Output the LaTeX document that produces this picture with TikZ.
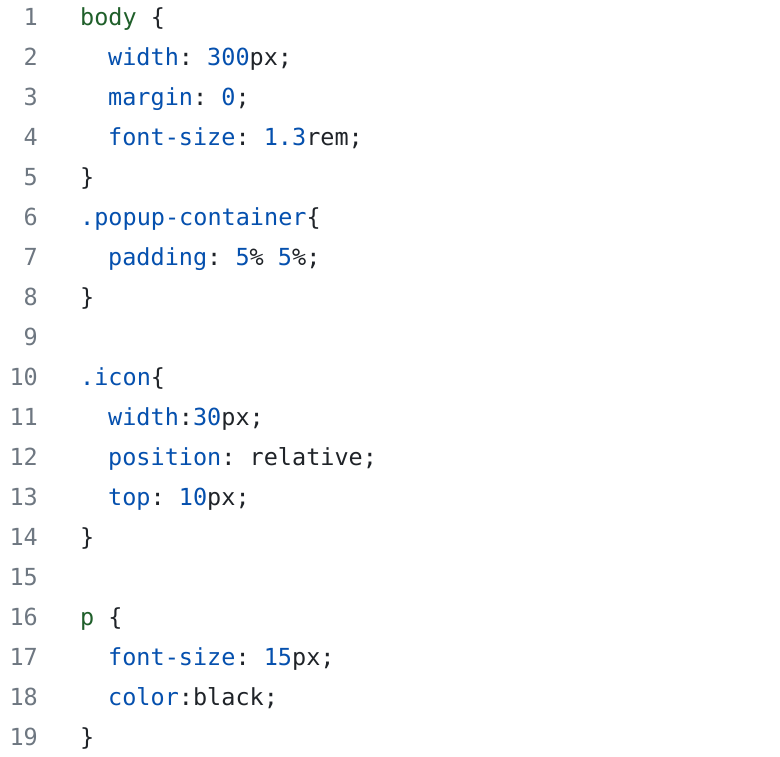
\documentclass[tikz,border=0pt]{standalone}
\usepackage{fontspec}
\setmonofont{DejaVu Sans Mono}
\definecolor{lnum}{HTML}{6E7781}
\definecolor{prop}{HTML}{0550AE}
\definecolor{sel}{HTML}{1F5F2A}
\definecolor{txt}{HTML}{1F2328}
\begin{document}
\begin{tikzpicture}[x=1pt,y=1pt,
  code/.style={anchor=base west,inner sep=0pt,font=\fontsize{23.5}{28}\ttfamily,text=txt},
  num/.style={anchor=base east,inner sep=0pt,font=\fontsize{23.5}{28}\ttfamily,text=lnum}]
\useasboundingbox[fill=white] (0,0) rectangle (780,-756);
\def\P#1{\textcolor{prop}{#1}}
\def\S#1{\textcolor{sel}{#1}}
\foreach \i in {1,...,19} {
  \node[num] (n\i) at (38,{-25-40*(\i-1)}) {\i};
}
\node[code] (l1) at (80,-25) {\S{body} \{};
\node[code] (l2) at (108,-65) {\P{width}: \P{300}px;};
\node[code] (l3) at (108,-105) {\P{margin}: \P{0};};
\node[code] (l4) at (108,-145) {\P{font-size}: \P{1.3}rem;};
\node[code] (l5) at (80,-185) {\}};
\node[code] (l6) at (80,-225) {\P{.popup-container}\{};
\node[code] (l7) at (108,-265) {\P{padding}: \P{5}\% \P{5}\%;};
\node[code] (l8) at (80,-305) {\}};
\node[code] (l10) at (80,-385) {\P{.icon}\{};
\node[code] (l11) at (108,-425) {\P{width}:\P{30}px;};
\node[code] (l12) at (108,-465) {\P{position}: relative;};
\node[code] (l13) at (108,-505) {\P{top}: \P{10}px;};
\node[code] (l14) at (80,-545) {\}};
\node[code] (l16) at (80,-625) {\S{p} \{};
\node[code] (l17) at (108,-665) {\P{font-size}: \P{15}px;};
\node[code] (l18) at (108,-705) {\P{color}:black;};
\node[code] (l19) at (80,-745) {\}};
\end{tikzpicture}
\end{document}
